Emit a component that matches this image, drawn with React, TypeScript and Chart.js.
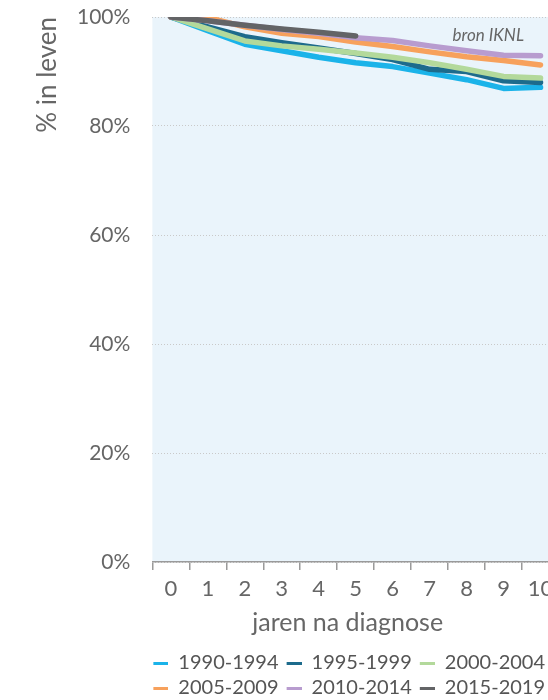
import React, { useEffect, useRef } from 'react';
import { Chart, registerables } from 'chart.js';

Chart.register(...registerables);

// ---- data ----
const years = ['0', '1', '2', '3', '4', '5', '6', '7', '8', '9', '10'];
const seriesNames = ['1990-1994', '1995-1999', '2000-2004', '2005-2009', '2010-2014', '2015-2019'];
const s1990 = [100, 97.5, 95.0, 93.8, 92.6, 91.6, 90.9, 89.7, 88.5, 86.9, 87.1];
const s1995 = [100, 98.2, 96.4, 95.3, 94.3, 93.3, 92.2, 90.4, 90.0, 88.3, 88.0];
const s2000 = [100, 97.8, 95.6, 94.7, 94.1, 93.4, 92.6, 91.6, 90.4, 89.1, 88.8];
const s2005 = [100, 99.9, 98.2, 97.0, 96.4, 95.4, 94.6, 93.6, 92.7, 92.0, 91.2];
const s2010 = [100, 99.3, 98.5, 97.7, 97.0, 96.2, 95.7, 94.7, 93.8, 93.0, 92.9];
const s2015 = [100, 99.3, 98.5, 97.8, 97.2, 96.5, null, null, null, null, null];
const seriesValues = [s1990, s1995, s2000, s2005, s2010, s2015];
const seriesColors = ['#1BB3E9', '#1D6B8C', '#B3D99B', '#F7A15C', '#B89CCF', '#636466'];
const yTicks = [0, 20, 40, 60, 80, 100];
const xTitle = 'jaren na diagnose';
const yTitle = '% in leven';
const sourceNote = 'bron IKNL';

const FONT = 'Lato';
const TEXT = '#666666';

function makeMarker(color: string): HTMLCanvasElement {
  const c = document.createElement('canvas');
  c.width = 18;
  c.height = 3;
  const g = c.getContext('2d')!;
  g.fillStyle = color;
  g.fillRect(3, 0, 15, 3);
  return c;
}

export default function App() {
  const ref = useRef<HTMLCanvasElement>(null);

  useEffect(() => {
    if (!ref.current) return;
    const markers = seriesColors.map(makeMarker);

    const helper = {
      id: 'helper',
      beforeDraw(chart: any) {
        const { ctx, chartArea: a } = chart;
        ctx.save();
        ctx.fillStyle = '#EAF4FB';
        ctx.fillRect(a.left, a.top, a.right - a.left, a.bottom - a.top);
        ctx.restore();
      },
      afterLayout(chart: any) {
        const a = chart.chartArea;
        const c = (a.left + a.right) / 2 - 8;
        for (const box of [chart.legend, chart.titleBlock]) {
          if (!box) continue;
          const w = box.right - box.left;
          box.left = c - w / 2;
          box.right = c + w / 2;
        }
      },
      afterDatasetsDraw(chart: any) {
        const { ctx, chartArea: a } = chart;
        ctx.save();
        ctx.font = `italic 17px ${FONT}`;
        ctx.fillStyle = TEXT;
        ctx.textAlign = 'right';
        ctx.textBaseline = 'middle';
        ctx.fillText(sourceNote, a.right - 35, a.top + 19);
        ctx.restore();
      },
    };

    const chart = new Chart(ref.current, {
      type: 'line',
      data: {
        labels: years,
        datasets: seriesNames.map((name, i) => ({
          label: name,
          data: seriesValues[i],
          order: seriesNames.length - 1 - i,
          borderColor: seriesColors[i],
          backgroundColor: seriesColors[i],
          borderWidth: 5.5,
          pointRadius: 0,
          pointHoverRadius: 0,
          tension: 0,
          borderCapStyle: 'round',
          borderJoinStyle: 'round',
          spanGaps: false,
        })),
      },
      options: {
        responsive: false,
        animation: false,
        layout: { padding: { left: 7, right: 13, top: 17, bottom: 0 } },
        scales: {
          x: {
            offset: true,
            grid: { offset: true, drawOnChartArea: false, color: '#9a9a9a', tickLength: 8, lineWidth: 1.5 },
            border: { color: '#9a9a9a', width: 1.5 },
            ticks: { color: TEXT, font: { family: FONT, size: 22 }, padding: 6, autoSkip: false, maxRotation: 0 },
          },
          y: {
            min: 0,
            max: 100,
            afterBuildTicks: (scale: any) => {
              scale.ticks = yTicks.map((v) => ({ value: v }));
            },
            ticks: { color: TEXT, font: { family: FONT, size: 21 }, padding: 0, callback: (v: any) => v + '%' },
            grid: { color: '#c9c9c9', drawTicks: true, tickLength: 22, tickColor: 'rgba(0,0,0,0)', lineWidth: 1 },
            border: { display: false, dash: [1, 2] },
            title: {
              display: true,
              text: yTitle,
              align: 'end',
              color: TEXT,
              font: { family: FONT, size: 26, lineHeight: 1 },
              padding: { top: 28, bottom: 16 },
            },
          },
        },
        plugins: {
          tooltip: { enabled: false },
          title: {
            display: true,
            text: xTitle,
            position: 'bottom',
            weight: 100,
            color: TEXT,
            font: { family: FONT, size: 25, weight: 'normal' },
            padding: { top: 0, bottom: 9.6 },
          },
          legend: {
            position: 'bottom',
            fullSize: false,
            labels: {
              usePointStyle: true,
              pointStyleWidth: 18,
              padding: 5,
              color: '#555555',
              font: { family: FONT, size: 20 },
              sort: (a: any, b: any) => a.datasetIndex - b.datasetIndex,
              generateLabels: (ch: any) =>
                Chart.defaults.plugins.legend.labels.generateLabels(ch).map((l: any) => ({
                  ...l,
                  pointStyle: markers[l.datasetIndex],
                  lineWidth: 0,
                })),
            },
          },
        },
      } as any,
      plugins: [helper],
    });
    return () => chart.destroy();
  }, []);

  return (
    <div style={{ position: 'absolute', left: 0, top: 0, width: 548, height: 700, overflow: 'hidden', background: '#fff' }}>
      <canvas ref={ref} width={572} height={708} style={{ display: 'block' }} />
    </div>
  );
}
